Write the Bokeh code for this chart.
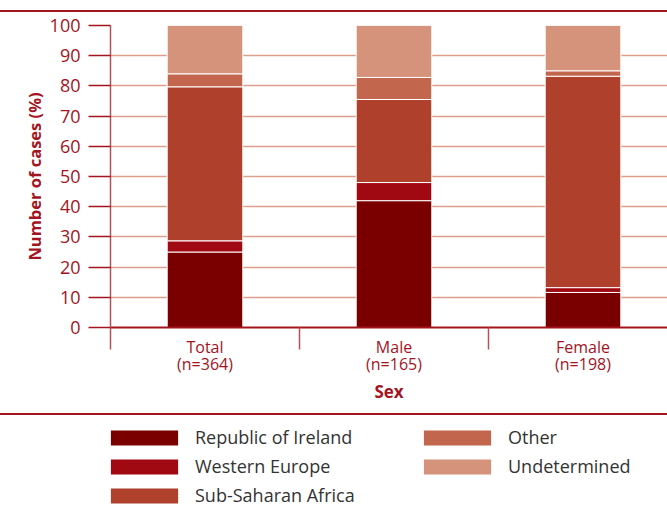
from bokeh.plotting import figure
from bokeh.models import ColumnDataSource, FixedTicker, Range1d, Legend, LegendItem, Div
from bokeh.layouts import column
from bokeh.embed import file_html
from bokeh.resources import INLINE

# ---- data ----
groups = ["Total\n(n=364)", "Male\n(n=165)", "Female\n(n=198)"]
origins = ["Republic of Ireland", "Western Europe", "Sub-Saharan Africa", "Other", "Undetermined"]
republic_of_ireland = [25.0, 42.0, 11.6]
western_europe = [3.7, 6.0, 1.6]
sub_saharan_africa = [51.0, 27.5, 70.0]
other = [4.3, 7.3, 1.8]
undetermined = [16.0, 17.2, 15.0]
y_ticks = [0, 10, 20, 30, 40, 50, 60, 70, 80, 90, 100]

colors = ["#7a0000", "#a00812", "#ae402c", "#c2674e", "#d6937c"]
RED = "#a3141e"
FONT = "Open Sans"

x = [i + 0.5 for i in range(len(groups))]
keys = ["roi", "we", "ssa", "oth", "und"]
source = ColumnDataSource(dict(x=x, roi=republic_of_ireland, we=western_europe,
                               ssa=sub_saharan_africa, oth=other, und=undetermined))

W = 667
p = figure(width=W, height=401, output_backend="svg", toolbar_location=None,
           x_range=Range1d(0, 557 / 189), y_range=Range1d(0, 100),
           min_border_left=110, min_border_right=0, min_border_top=13, min_border_bottom=86)
p.outline_line_color = None
p.background_fill_color = "white"

p.vbar_stack(keys, x="x", width=0.4, color=colors, source=source,
             line_color="white", line_width=1)

# y axis
yax = p.yaxis[0]
yax.ticker = FixedTicker(ticks=y_ticks)
yax.axis_line_color = "#b8505a"
yax.axis_line_width = 1.5
yax.major_tick_out = 22
yax.major_tick_in = 0
yax.major_tick_line_color = RED
yax.major_tick_line_width = 1.5
yax.minor_tick_line_color = None
yax.major_label_text_color = RED
yax.major_label_text_font = FONT
yax.major_label_text_font_size = "18px"
yax.major_label_standoff = 8
yax.axis_label = "Number of cases (%)"
yax.axis_label_text_font = FONT
yax.axis_label_text_font_size = "16.5px"
yax.axis_label_text_font_style = "bold"
yax.axis_label_text_color = RED
yax.axis_label_standoff = 1

# x axis
xax = p.xaxis[0]
xax.ticker = FixedTicker(ticks=x, minor_ticks=[0, 1, 2, 3])
xax.major_label_overrides = {xv: g for xv, g in zip(x, groups)}
xax.major_tick_line_color = None
xax.major_tick_out = 0
xax.major_tick_in = 0
xax.minor_tick_out = 22
xax.minor_tick_in = 0
xax.minor_tick_line_color = "#b8505a"
xax.minor_tick_line_width = 1.5
xax.axis_line_color = RED
xax.axis_line_width = 2
xax.major_label_text_color = RED
xax.major_label_text_font = FONT
xax.major_label_text_font_size = "16px"
xax.major_label_text_line_height = 0.8
xax.major_label_standoff = -14
xax.axis_label = "Sex"
xax.axis_label_text_font = FONT
xax.axis_label_text_font_size = "17px"
xax.axis_label_text_font_style = "bold"
xax.axis_label_text_color = RED
xax.axis_label_standoff = 2

p.xgrid.grid_line_color = None
p.ygrid.ticker = FixedTicker(ticks=y_ticks)
p.ygrid.grid_line_color = "#dd9f8b"
p.ygrid.grid_line_width = 1.5

# legend figure (legend renderers share the data; their bars fall below its visible range)
p2 = figure(width=W, height=95, output_backend="svg", toolbar_location=None,
            x_range=Range1d(0, 557 / 189), y_range=Range1d(150, 250),
            x_axis_location=None, y_axis_location=None,
            min_border=0, min_border_left=110, min_border_right=0,
            min_border_top=0, min_border_bottom=0)
p2.grid.visible = False
p2.outline_line_color = None
p2.background_fill_color = None
p2.border_fill_color = None
rs = p2.vbar_stack(keys, x="x", width=0.4, color=colors, source=source, line_color=None)
items = [LegendItem(label=name, renderers=[r]) for name, r in zip(origins, rs)]
legend = Legend(items=items, orientation="vertical", nrows=3,
                glyph_width=84, glyph_height=19, label_width=215, label_height=15,
                spacing=5, label_standoff=9, padding=0, margin=0,
                border_line_color=None, background_fill_alpha=0,
                label_text_font=FONT, label_text_font_size="18px",
                label_text_color="#333333", location=(-8, 3))
p2.add_layout(legend, "center")

line_top = Div(width=W, height=2, margin=(10, 0, 0, 0), styles={"background-color": RED})
line_mid = Div(width=W, height=2, margin=(0, 0, 0, 0), styles={"background-color": RED})

layout = column(line_top, p, line_mid, p2, spacing=0)
open("out.html", "w").write(file_html(layout, INLINE))
